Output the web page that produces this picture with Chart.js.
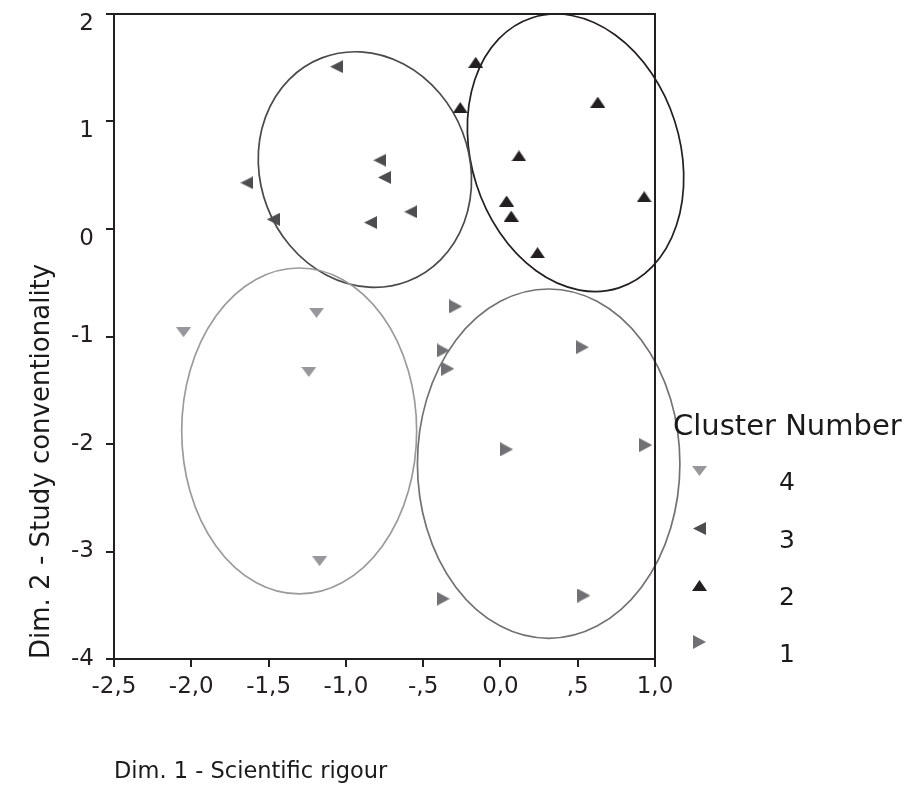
<!DOCTYPE html>
<html><head><meta charset="utf-8">
<script src="https://cdn.jsdelivr.net/npm/chart.js@4.4.1/dist/chart.umd.min.js"></script>
<style>html,body{margin:0;padding:0;background:#fff}#wrap{width:909px;height:788px;position:relative}</style>
</head><body><div id="wrap"><canvas id="c" width="909" height="788"></canvas></div>
<script>
// ---- data ----
const clusterNames = ['1', '2', '3', '4'];
const legendTitle = 'Cluster Number';
const xTitle = 'Dim. 1 - Scientific rigour';
const yTitle = 'Dim. 2 - Study conventionality';

const c1x = [-0.29, -0.37, -0.34, 0.53, 0.04, 0.94, -0.37, 0.54];
const c1y = [-0.72, -1.13, -1.30, -1.10, -2.05, -2.01, -3.44, -3.41];
const c2x = [-0.16, -0.26, 0.63, 0.12, 0.04, 0.07, 0.93, 0.24];
const c2y = [1.55, 1.13, 1.18, 0.68, 0.26, 0.12, 0.30, -0.22];
const c3x = [-1.06, -0.78, -0.75, -1.64, -1.47, -0.58, -0.84];
const c3y = [1.51, 0.64, 0.48, 0.43, 0.09, 0.16, 0.06];
const c4x = [-2.05, -1.19, -1.24, -1.17];
const c4y = [-0.96, -0.78, -1.33, -3.09];

const xTickValues = [-2.5, -2, -1.5, -1, -0.5, 0, 0.5, 1];
const xTickLabels = ['-2,5', '-2,0', '-1,5', '-1,0', '-,5', '0,0', ',5', '1,0'];
const yTickValues = [-4, -3, -2, -1, 0, 1, 2];
const yTickLabels = ['-4', '-3', '-2', '-1', '0', '1', '2'];

// cluster ellipses (data units), order: cluster 1..4
const ellCx = [0.312, 0.486, -0.877, -1.302];
const ellCy = [-2.183, 0.709, 0.553, -1.879];
const ellHx = [0.849, 0.700, 0.690, 0.760];
const ellHy = [1.625, 1.291, 1.096, 1.516];
const ellR  = [0.0, -0.18, -0.09, 0.0];

// ---- styles ----
const FONT = '"DejaVu Sans", "Liberation Sans", Arial, sans-serif';
const INK = '#231f20';
const markerColors = ['#717175', '#231f20', '#4d4d4f', '#98989c'];
const ellColors = ['#727272', '#231f20', '#4a4a4a', '#9b9b9b'];

function makeTri(dir, base, len, color) {
  const cv = document.createElement('canvas');
  const horiz = dir === 'left' || dir === 'right';
  cv.width = horiz ? len : base;
  cv.height = horiz ? base : len;
  const g = cv.getContext('2d');
  g.fillStyle = color;
  g.beginPath();
  if (dir === 'up') { g.moveTo(base / 2, 0); g.lineTo(base, len); g.lineTo(0, len); }
  else if (dir === 'down') { g.moveTo(0, 0); g.lineTo(base, 0); g.lineTo(base / 2, len); }
  else if (dir === 'left') { g.moveTo(0, base / 2); g.lineTo(len, 0); g.lineTo(len, base); }
  else { g.moveTo(0, 0); g.lineTo(len, base / 2); g.lineTo(0, base); }
  g.closePath();
  g.fill();
  return cv;
}
const markers = [
  makeTri('right', 14, 13, markerColors[0]),
  makeTri('up', 15, 11, markerColors[1]),
  makeTri('left', 13, 13, markerColors[2]),
  makeTri('down', 15, 10, markerColors[3])
];

function pts(xs, ys) { return xs.map((x, i) => ({ x: x, y: ys[i] })); }
const seriesX = [c1x, c2x, c3x, c4x];
const seriesY = [c1y, c2y, c3y, c4y];

const datasets = clusterNames.map((name, i) => ({
  label: name,
  data: pts(seriesX[i], seriesY[i]),
  pointStyle: markers[i],
  pointRadius: 7,
  pointHoverRadius: 7,
  showLine: false
}));

const decorPlugin = {
  id: 'decor',
  beforeDatasetsDraw(chart) {
    const ctx = chart.ctx, xs = chart.scales.x, ys = chart.scales.y;
    const sx = Math.abs(xs.getPixelForValue(1) - xs.getPixelForValue(0));
    const sy = Math.abs(ys.getPixelForValue(1) - ys.getPixelForValue(0));
    ctx.save();
    for (let i = 0; i < ellCx.length; i++) {
      const px = xs.getPixelForValue(ellCx[i]);
      const py = ys.getPixelForValue(ellCy[i]);
      const a = ellHx[i] * sx, b = ellHy[i] * sy;
      const sxx = a * a, syy = b * b, sxy = -ellR[i] * a * b;
      const th = 0.5 * Math.atan2(2 * sxy, sxx - syy);
      const m = (sxx + syy) / 2, d = Math.sqrt(((sxx - syy) / 2) ** 2 + sxy * sxy);
      ctx.beginPath();
      ctx.ellipse(px, py, Math.sqrt(m + d), Math.sqrt(m - d), th, 0, Math.PI * 2);
      ctx.strokeStyle = ellColors[i];
      ctx.lineWidth = 1.7;
      ctx.stroke();
    }
    // box
    const ca = chart.chartArea;
    ctx.strokeStyle = INK;
    ctx.lineWidth = 2;
    ctx.beginPath();
    ctx.moveTo(ca.left, ca.top);
    ctx.lineTo(ca.right, ca.top);
    ctx.lineTo(ca.right, ca.bottom);
    ctx.stroke();
    ctx.restore();
  },
  afterDraw(chart) {
    const ctx = chart.ctx;
    ctx.save();
    ctx.fillStyle = '#1a1a1a';
    ctx.font = '29px ' + FONT;
    ctx.textAlign = 'left';
    ctx.textBaseline = 'alphabetic';
    ctx.fillText(legendTitle, 673, 435);
    const order = [3, 2, 1, 0];
    const mY = [470.5, 528, 585, 642];
    const lY = [490, 547.7, 605, 661.7];
    ctx.font = '25px ' + FONT;
    ctx.textAlign = 'center';
    order.forEach((ci, k) => {
      const mk = markers[ci];
      ctx.drawImage(mk, Math.round(699 - mk.width / 2), Math.round(mY[k] - mk.height / 2));
      ctx.fillText(clusterNames[ci], 787, lY[k]);
    });
    ctx.restore();
  }
};

new Chart(document.getElementById('c'), {
  type: 'scatter',
  data: { datasets: datasets },
  plugins: [decorPlugin],
  options: {
    responsive: false,
    animation: false,
    events: [],
    layout: { padding: { top: 14, right: 254, bottom: 0, left: 0 } },
    plugins: { legend: { display: false }, tooltip: { enabled: false } },
    scales: {
      x: {
        type: 'linear', min: -2.5, max: 1,
        afterFit(s) { s.height = 129; s.paddingLeft = 0; s.paddingRight = 0; },
        afterBuildTicks(s) { s.ticks = xTickValues.map(v => ({ value: v })); },
        ticks: {
          color: INK, padding: 6, maxRotation: 0, autoSkip: false,
          font: { family: FONT, size: 23 },
          callback: (v) => { const i = xTickValues.findIndex(t => Math.abs(t - v) < 1e-9); return i >= 0 ? xTickLabels[i] : ''; }
        },
        grid: { drawOnChartArea: false, drawTicks: true, tickLength: 8, color: INK, lineWidth: 2 },
        border: { display: true, color: INK, width: 2 },
        title: { display: true, text: xTitle, align: 'start', color: '#1a1a1a', font: { family: FONT, size: 22.5 }, padding: { top: 0, bottom: 2 } }
      },
      y: {
        type: 'linear', min: -4, max: 2,
        afterFit(s) { s.width = 114; s.paddingTop = 0; s.paddingBottom = 0; },
        afterBuildTicks(s) { s.ticks = yTickValues.map(v => ({ value: v })); },
        ticks: {
          color: INK, padding: 12, autoSkip: false,
          // labels 0..2 sit slightly below their tick marks in the original
          font: (c) => ({ family: FONT, size: 23, lineHeight: (c.tick && c.tick.value >= 0) ? '20px' : 1.2 }),
          callback: (v) => {
            const i = yTickValues.indexOf(Math.round(v));
            if (i < 0) return '';
            return v >= 0 ? ['', yTickLabels[i]] : yTickLabels[i];
          }
        },
        grid: { drawOnChartArea: false, drawTicks: true, tickLength: 8, color: INK, lineWidth: 2 },
        border: { display: true, color: INK, width: 2 },
        title: { display: true, text: yTitle, align: 'start', color: '#1a1a1a', font: { family: FONT, size: 26 }, padding: { top: 27, bottom: 0 } }
      }
    }
  }
});
</script>
</body></html>
